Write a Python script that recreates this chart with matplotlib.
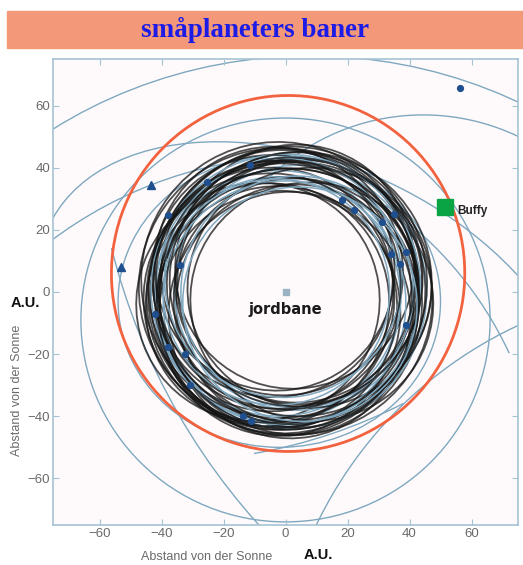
"""Small-planet orbits (Kuiper belt) seen from above, with Buffy's orbit in red."""
import numpy as np
import matplotlib
matplotlib.use("Agg")
import matplotlib.pyplot as plt
from matplotlib.patches import Ellipse, Arc, Rectangle

# Kuiper belt orbits: semi-major axis (AU), eccentricity, perihelion direction (deg)
belt_a = [39.4, 39.5, 39.3, 39.6, 39.4, 39.2, 39.5, 39.4, 39.7, 39.3, 39.4,
          39.5, 39.6, 39.4, 39.3, 39.5, 39.4, 39.6, 39.3, 39.5,
          42.5, 43.0, 43.8, 44.2, 44.5, 43.2, 42.8, 45.0, 44.0, 43.5, 41.5,
          40.5, 38.5, 37.5, 36.5, 42.0, 41.0, 40.0, 43.0, 44.0, 42.0, 38.0]
belt_e = [0.24, 0.18, 0.15, 0.10, 0.22, 0.17, 0.12, 0.08, 0.19, 0.23, 0.13,
          0.16, 0.06, 0.20, 0.15, 0.11, 0.21, 0.14, 0.09, 0.18,
          0.05, 0.08, 0.04, 0.07, 0.10, 0.03, 0.12, 0.06, 0.09, 0.02, 0.11,
          0.14, 0.12, 0.10, 0.08, 0.06, 0.13, 0.09, 0.05, 0.04, 0.10, 0.16]
belt_w = [20, 75, 130, 200, 250, 310, 350, 45, 100, 160, 225, 280, 10, 190,
          60, 140, 295, 215, 85, 35,
          30, 110, 170, 240, 300, 70, 210, 330, 150, 260, 90, 20, 280, 180,
          0, 120, 230, 320, 190, 60, 270, 140]
# belt orbits drawn pale blue instead of black
belt_blue = [3, 7, 12, 18, 22, 29, 32, 33, 34, 41]

# scattered-disk orbits fully in view: centre, full width/height, tilt (deg)
wide_cx = [8, 0, -2]
wide_cy = [-65, -9, -3]
wide_w = [300, 132, 104]
wide_h = [282, 130, 94]
wide_ang = [0, 0, 0]

# orbits only partly in view: centre, full width/height, tilt, visible angles
arc_cx = [8, 6.2, 44.4, -36.6, 145.7, 132.0, -40.0]
arc_cy = [-18, -92.5, -14.3, -70.4, 64.5, -133.6, 117.4]
arc_w = [186, 272.6, 142.6, 240, 416, 270.8, 344]
arc_h = [118, 272.6, 142.6, 240, 416, 270.8, 344]
arc_ang = [-25, 0, 0, 0, 0, 0, 0]
arc_t1 = [2, 95, 55, 25, 194, 105, -80]
arc_t2 = [200, 132, 135, 55, 226, 160, -63]

# Buffy's orbit
buffy_a, buffy_e, buffy_w = 57.3, 0.105, -98
buffy_pos = (51.6, 27.2)

# current positions of the bodies
dot_x = [-25.3, -11.5, -37.8, -34.0, 18.3, 22.0, 35.0, 31.0, 34.0, 38.8, 37.0,
         39.0, -42.0, -38.0, -32.4, -30.8, -13.8, -11.0, 56.4]
dot_y = [35.3, 41.0, 24.7, 8.6, 29.5, 26.3, 25.0, 22.4, 12.2, 12.8, 9.0,
         -10.6, -7.0, -17.6, -20.0, -29.8, -40.0, -41.5, 65.7]
tri_x = [-43.3, -53.0]
tri_y = [34.5, 8.0]

ticks = [-60, -40, -20, 0, 20, 40, 60]

BLACK = "#151515"
PALE = "#7fa8c0"
RED = "#f2623f"
DOT = "#1f4f8f"
AXIS = "#a6c3d3"
LABEL = "#6a6a6a"
SANS = ["Liberation Sans", "DejaVu Sans"]

fig = plt.figure(figsize=(5.23, 5.65), dpi=100)
fig.patch.set_facecolor("white")

# title banner
fig.patches.append(Rectangle((7 / 523, 1 - 48 / 565), 516 / 523, 37 / 565,
                             transform=fig.transFigure, color="#f4987a",
                             zorder=0))
fig.text(0.488, 1 - 30 / 565, "småplaneters baner", ha="center", va="center",
         fontsize=19.5, fontweight="bold", color="#1c1ce6",
         family=["Liberation Serif", "DejaVu Serif"])

ax = fig.add_axes([53 / 523, 1 - 525 / 565, 465 / 523, 466 / 565])
ax.set_facecolor("#fefafb")

for i, (a, e, w) in enumerate(zip(belt_a, belt_e, belt_w)):
    th = np.radians(w)
    cx, cy = -a * e * np.cos(th), -a * e * np.sin(th)
    b = a * np.sqrt(1 - e ** 2)
    if i in belt_blue:
        ax.add_patch(Ellipse((cx, cy), 2 * a, 2 * b, angle=w, fill=False,
                             ec=PALE, lw=1.1, zorder=2))
    else:
        ax.add_patch(Ellipse((cx, cy), 2 * a, 2 * b, angle=w, fill=False,
                             ec=BLACK, lw=1.3, alpha=0.75, zorder=2))

for cx, cy, w, h, g in zip(wide_cx, wide_cy, wide_w, wide_h, wide_ang):
    ax.add_patch(Ellipse((cx, cy), w, h, angle=g, fill=False, ec=PALE,
                         lw=1.0, zorder=1))
for cx, cy, w, h, g, t1, t2 in zip(arc_cx, arc_cy, arc_w, arc_h, arc_ang,
                                   arc_t1, arc_t2):
    ax.add_patch(Arc((cx, cy), w, h, angle=g, theta1=t1, theta2=t2,
                     ec=PALE, lw=1.0, zorder=1))

th = np.radians(buffy_w)
bcx, bcy = -buffy_a * buffy_e * np.cos(th), -buffy_a * buffy_e * np.sin(th)
ax.add_patch(Ellipse((bcx, bcy), 2 * buffy_a,
                     2 * buffy_a * np.sqrt(1 - buffy_e ** 2), angle=buffy_w,
                     fill=False, ec=RED, lw=2.0, zorder=3))

ax.plot(dot_x, dot_y, "o", color=DOT, ms=4.2, zorder=5)
ax.plot(tri_x, tri_y, "^", color=DOT, ms=5.5, zorder=5)
ax.plot([buffy_pos[0]], [buffy_pos[1]], "s", color="#0aa444", ms=11.5,
        zorder=6)
ax.text(buffy_pos[0] + 3.8, buffy_pos[1] - 1, "Buffy", fontsize=8.5,
        fontweight="bold", color="#222222", va="center", family=SANS)

ax.plot([0], [0], "s", color="#9bb3c3", ms=5, zorder=5)
ax.text(0, -5.6, "jordbane", ha="center", va="center", fontsize=10.5,
        fontweight="bold", color="#1a1a1a")

ax.set_xlim(-75, 75)
ax.set_ylim(-75, 75)
ax.set_xticks(ticks)
ax.set_yticks(ticks)
ax.set_xticklabels([str(t).replace("-", "\u2212") for t in ticks])
ax.set_yticklabels([str(t).replace("-", "\u2212") for t in ticks])
ax.tick_params(direction="in", length=4, color=AXIS, labelcolor=LABEL,
               labelsize=9.5, top=True, right=True, pad=2)
for lab in ax.get_xticklabels() + ax.get_yticklabels():
    lab.set_family(SANS)
for s in ax.spines.values():
    s.set_color(AXIS)
    s.set_linewidth(1.2)

fig.text(25 / 523, 1 - 303 / 565, "A.U.", ha="center", va="center",
         fontsize=10.5, fontweight="bold", color="#111111", family=SANS)
fig.text(318 / 523, 1 - 555 / 565, "A.U.", ha="center", va="center",
         fontsize=10.5, fontweight="bold", color="#111111", family=SANS)
fig.text(207 / 523, 1 - 557 / 565, "Abstand von der Sonne", ha="center",
         va="center", fontsize=9, color=LABEL, family=SANS)
fig.text(17 / 523, 1 - 390 / 565, "Abstand von der Sonne", ha="center",
         va="center", fontsize=9, color=LABEL, family=SANS, rotation=90)

fig.savefig("out.png", dpi=100)
